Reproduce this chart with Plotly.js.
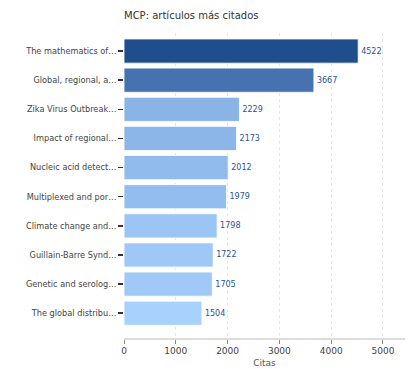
<!DOCTYPE html>
<html>
<head>
<meta charset="utf-8">
<script src="https://cdn.plot.ly/plotly-3.0.1.min.js"></script>
<style>html,body{margin:0;padding:0;background:#fff;}#chart{width:414px;height:369px;}</style>
</head>
<body>
<div id="chart"></div>
<script>
const titles = [
  "The mathematics of…",
  "Global, regional, a…",
  "Zika Virus Outbreak…",
  "Impact of regional…",
  "Nucleic acid detect…",
  "Multiplexed and por…",
  "Climate change and…",
  "Guillain-Barre Synd…",
  "Genetic and serolog…",
  "The global distribu…"
];
const citations = [4522, 3667, 2229, 2173, 2012, 1979, 1798, 1722, 1705, 1504];
const barColors = ["#1f4e8c", "#4673b0", "#8ab4e6", "#8cb6e8", "#91bbed", "#93bdee", "#9bc5f5", "#9fc8f7", "#a0c9f8", "#a8d1fe"];

const trace = {
  type: "bar",
  orientation: "h",
  x: citations,
  y: titles,
  marker: {color: barColors, line: {color: "rgba(255,255,255,0.8)", width: 1}},
  text: citations.map(String),
  textposition: "outside",
  cliponaxis: false,
  textfont: {family: "DejaVu Sans", size: 8, color: "#2b5394"},
  hoverinfo: "none"
};

const layout = {
  width: 414,
  height: 369,
  margin: {l: 124, r: 9, t: 33, b: 31},
  paper_bgcolor: "#fff",
  plot_bgcolor: "#fff",
  font: {family: "DejaVu Sans", size: 9, color: "#444"},
  title: {text: "MCP: artículos más citados", x: 0, xref: "paper", xanchor: "left", y: 0.959, yref: "container", yanchor: "middle",
          font: {family: "DejaVu Sans", size: 10, color: "#333"}},
  bargap: 0.17,
  showlegend: false,
  xaxis: {
    range: [0, 5426],
    tickvals: [0, 1000, 2000, 3000, 4000, 5000],
    showgrid: true, gridcolor: "#e6e6e6", griddash: "dot", gridwidth: 1,
    zeroline: false,
    showline: true, linecolor: "#dcdcdc", linewidth: 1.5,
    ticks: "outside", ticklen: 4, tickcolor: "#888", tickwidth: 1,
    tickfont: {family: "DejaVu Sans", size: 9, color: "#444"},
    title: {text: "Citas", standoff: 4, font: {family: "DejaVu Sans", size: 9, color: "#555"}}
  },
  yaxis: {
    type: "category",
    categoryorder: "array",
    categoryarray: titles,
    range: [9.85, -0.62],
    showgrid: false, zeroline: false, showline: false,
    ticks: "outside", ticklen: 5, tickcolor: "#333", tickwidth: 1.5,
    tickfont: {family: "DejaVu Sans", size: 8.2, color: "#444"}
  }
};

Plotly.newPlot("chart", [trace], layout, {displayModeBar: false, staticPlot: true});
</script>
</body>
</html>
